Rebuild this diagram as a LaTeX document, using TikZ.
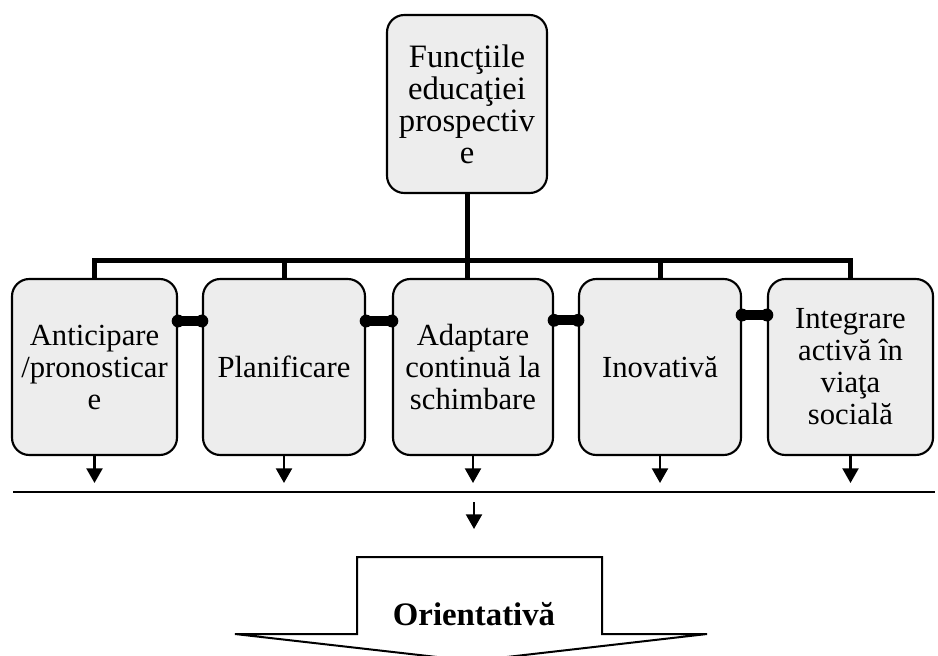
\documentclass[tikz,border=0pt]{standalone}
\usepackage{fontspec}
\setmainfont{Liberation Serif}
\usetikzlibrary{arrows.meta}
\begin{document}
\begin{tikzpicture}[x=0.75pt,y=-0.75pt,
  box/.style={draw, line width=1.6pt, rounded corners=13pt, fill=black!7, align=center,
    font=\fontsize{23}{24}\selectfont, minimum height=132pt, inner sep=2pt},
  bar/.style={line width=3.75pt},
  link/.style={line width=7.5pt},
  bulb/.style={fill=black},
  down/.style={line width=1.7pt, -{Triangle[width=12pt,length=11pt]}},
  bigarrow/.style={draw, line width=1.5pt, fill=white, line join=miter},
]
\useasboundingbox (0,0) rectangle (938,656);
\fill[white] (0,0) rectangle (938,656);

% nodes
\node[box, minimum width=120pt, minimum height=133.5pt, font=\fontsize{24.5}{24}\selectfont] (t) at (467,104) {Funcţiile\\educaţiei\\prospectiv\\e};
\node[box, minimum width=123.75pt] (b1) at (94.5,367) {Anticipare\\/pronosticar\\e};
\node[box, minimum width=121.5pt] (b2) at (284,367) {Planificare};
\node[box, minimum width=120pt] (b3) at (473,367) {Adaptare\\continuă la\\schimbare};
\node[box, minimum width=121.5pt] (b4) at (660,367) {Inovativă};
\node[box, minimum width=123.75pt] (b5) at (850.5,367) {Integrare\\activă în\\viaţa\\socială};

% tree connectors
\coordinate (bj) at (470,260);
\draw[bar] (t.south) -- (t.south |- b3.north);
\draw[bar] (b1.north) |- (bj);
\draw[bar] (b5.north) |- (bj);
\draw[bar] (b2.north) -- (b2.north |- bj);
\draw[bar] (b4.north) -- (b4.north |- bj);

% side links with round ends
\foreach \a/\b/\s in {b1/b2/34.5pt, b2/b3/34.5pt, b3/b4/35pt, b4/b5/39pt}{
  \draw[link] ([yshift=\s]\a.east) -- ([yshift=\s]\b.west);
  \fill[bulb] ([yshift=\s]\a.east) circle (4.8pt);
  \fill[bulb] ([yshift=\s]\b.west) circle (4.8pt);
}

% arrows down to the rule
\coordinate (rt) at (0,483);
\foreach \b in {b1,b2,b3,b4,b5}
  \draw[down] (\b.south) -- (\b.south |- rt);

\coordinate (r1) at (13,492);
\coordinate (r2) at (935,492);
\draw[line width=1.5pt] (r1) -- (r2);

\coordinate (m1) at (474,502);
\coordinate (m2) at (474,529);
\draw[down] (m1) -- (m2);

% big arrow
\draw[bigarrow] (357,557) -- (602,557) -- (602,634) -- (707,634) -- (472,661)
  -- (235,634) -- (357,634) -- cycle;
\node[anchor=base, font=\fontsize{24.6}{26}\selectfont\bfseries, inner sep=0pt] (o) at (474,625) {Orientativă};
\end{tikzpicture}
\end{document}
